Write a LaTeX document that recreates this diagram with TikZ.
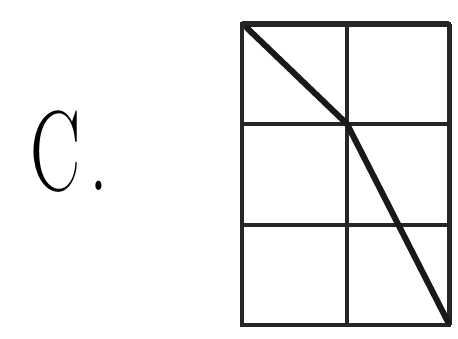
\documentclass[tikz,border=0pt]{standalone}
\begin{document}
\begin{tikzpicture}[x=1pt,y=-1pt,
  gridline/.style={line width=3.5pt,black!85},
  diag/.style={line width=6pt,black!90,line cap=round},
  label/.style={inner sep=0pt,font=\fontsize{114}{114}\selectfont,xscale=0.66,transform shape}]
\useasboundingbox (0,0) rectangle (458,338);
\node[label,anchor=base west] (lbl) at (30,190) {C\kern14pt.};
\coordinate (tl) at (242,24);
\coordinate (br) at (449,325);
\draw[gridline] (tl) rectangle (br);
\draw[gridline,line width=6pt] (242,24) -- (449,24);
\draw[gridline,line width=5pt] (449,24) -- (449,325);
\draw[gridline] (347,24) -- (347,325);
\draw[gridline] (242,124) -- (449,124);
\draw[gridline] (242,225) -- (449,225);
\coordinate (d0) at (247,28);
\coordinate (d1) at (347,124);
\coordinate (d2) at (448,322);
\draw[diag,line join=round] (d0) -- (d1) -- (d2);
\end{tikzpicture}
\end{document}
